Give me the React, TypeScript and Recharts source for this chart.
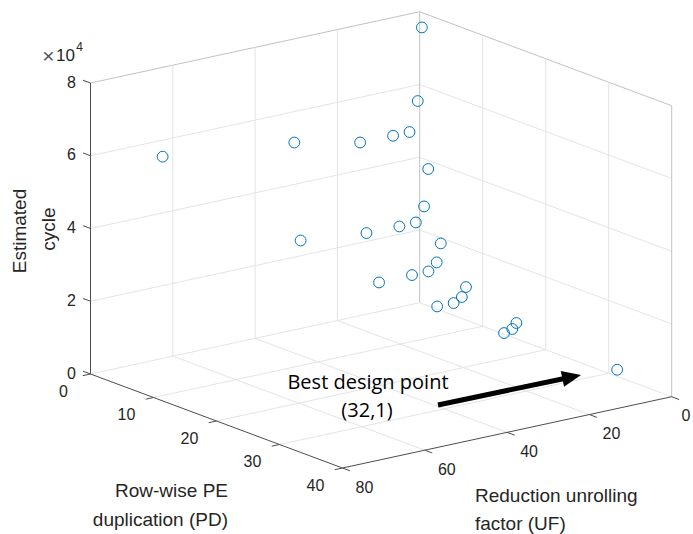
import { ScatterChart, Scatter, XAxis, YAxis, ReferenceLine, ReferenceDot } from "recharts";

// design space sweep: row-wise PE duplication (PD) x reduction unrolling factor (UF)
const pd = [1, 1, 1, 1, 1, 1, 1, 2, 2, 2, 2, 2, 2, 4, 4, 4, 4, 4, 8, 8, 8, 8, 16, 16, 16, 32];
const uf = [1, 2, 4, 8, 16, 32, 64, 1, 2, 4, 8, 16, 32, 1, 2, 4, 8, 16, 1, 2, 4, 8, 1, 2, 4, 1];
const cycles = [
  76570, 56580, 48550, 48510, 48620, 52520, 56480,
  38300, 28260, 24340, 24220, 24360, 26230,
  19130, 14160, 12170, 12150, 12070,
  9730, 7230, 6060, 6100,
  5000, 3600, 2980,
  2500,
];

const pdTicks = [0, 10, 20, 30, 40];
const ufTicks = [0, 20, 40, 60, 80];
const zTicks = [0, 20000, 40000, 60000, 80000];
const zTickLabels = ["0", "2", "4", "6", "8"];

const W = 693;
const H = 534;
const PD_MAX = 40;
const UF_MAX = 80;
const Z_MAX = 80000;

// view: screen position of (PD=0, UF=80, z=0) and per-unit screen steps (y down)
const ORIGIN = { x: 90.5, y: 374 };
const STEP_PD = { x: 6.3, y: 2.35 };
const STEP_UF = { x: -4.115, y: 0.891 }; // per +1 UF
const STEP_Z = 36.375 / 10000;

function screen(p: number, u: number, z: number) {
  return {
    x: ORIGIN.x + STEP_PD.x * p + STEP_UF.x * (u - UF_MAX),
    y: ORIGIN.y + STEP_PD.y * p + STEP_UF.y * (u - UF_MAX) - STEP_Z * z,
  };
}
// screen px -> chart data units (y axis points up)
const toData = (s: { x: number; y: number }) => ({ x: s.x, y: H - s.y });
const pt = (p: number, u: number, z: number) => toData(screen(p, u, z));

const points = pd.map((p, i) => {
  const d = pt(p, uf[i], cycles[i]);
  return { sx: d.x, sy: d.y, pd: p, uf: uf[i], cycle: cycles[i] };
});

type Seg = { a: { x: number; y: number }; b: { x: number; y: number }; color: string; w: number };
const segs: Seg[] = [];
const GRID = "#e4e4e4";
const BOX = "#c2c2c2";
const AXIS = "#4d4d4d";
const add = (a: any, b: any, color: string, w = 1) => segs.push({ a, b, color, w });

// walls + floor grid
zTicks.forEach((z) => {
  add(pt(0, UF_MAX, z), pt(0, 0, z), z === Z_MAX ? BOX : GRID);
  add(pt(0, 0, z), pt(PD_MAX, 0, z), z === Z_MAX ? BOX : GRID);
});
ufTicks.filter((u) => u > 0 && u < UF_MAX).forEach((u) => {
  add(pt(0, u, 0), pt(0, u, Z_MAX), GRID);
  add(pt(0, u, 0), pt(PD_MAX, u, 0), GRID);
});
pdTicks.filter((p) => p > 0 && p < PD_MAX).forEach((p) => {
  add(pt(p, 0, 0), pt(p, 0, Z_MAX), GRID);
  add(pt(p, UF_MAX, 0), pt(p, 0, 0), GRID);
});
add(pt(0, 0, 0), pt(0, 0, Z_MAX), BOX);
add(pt(PD_MAX, 0, 0), pt(PD_MAX, 0, Z_MAX), BOX);

// axes
add(pt(0, UF_MAX, 0), pt(0, UF_MAX, Z_MAX), AXIS);
add(pt(0, UF_MAX, 0), pt(PD_MAX, UF_MAX, 0), AXIS);
add(pt(PD_MAX, UF_MAX, 0), pt(PD_MAX, 0, 0), AXIS);

// tick marks, pointing outwards
const unit = (v: { x: number; y: number }) => {
  const n = Math.hypot(v.x, v.y);
  return { x: v.x / n, y: v.y / n };
};
const TL = 8;
const tickOut = (s: { x: number; y: number }, dir: { x: number; y: number }) =>
  add(toData(s), toData({ x: s.x + dir.x * TL, y: s.y + dir.y * TL }), AXIS);
const negPd = unit({ x: -STEP_PD.x, y: -STEP_PD.y });
const posUf = unit(STEP_UF);
const posPd = unit(STEP_PD);
zTicks.forEach((z) => tickOut(screen(0, UF_MAX, z), negPd));
pdTicks.forEach((p) => tickOut(screen(p, UF_MAX, 0), posUf));
ufTicks.forEach((u) => tickOut(screen(PD_MAX, u, 0), posPd));

type Lbl = { x: number; y: number; text: string; anchor?: string; size?: number; font?: string; rot?: number; color?: string };
const TICK_FONT = "'Liberation Sans', Arial, sans-serif";
const NOTE_FONT = "'Open Sans', sans-serif";
const labels: Lbl[] = [];
zTicks.forEach((z, i) => {
  const s = screen(0, UF_MAX, z);
  labels.push({ x: 76, y: s.y - 1, text: zTickLabels[i], anchor: "end" });
});
pdTicks.forEach((p) => {
  const s = screen(p, UF_MAX, 0);
  labels.push({ x: s.x - 27, y: s.y + 17, text: String(p) });
});
ufTicks.forEach((u) => {
  const s = screen(PD_MAX, u, 0);
  // last label sits at the window edge; nudge it in so it stays readable
  labels.push({ x: Math.min(s.x + 22, W - 7), y: s.y + 19, text: String(u) });
});
labels.push({ x: 228, y: 490, text: "Row-wise PE", anchor: "end", size: 19 });
labels.push({ x: 228, y: 519, text: "duplication (PD)", anchor: "end", size: 19 });
labels.push({ x: 475, y: 495, text: "Reduction unrolling", anchor: "start", size: 19 });
labels.push({ x: 475, y: 523, text: "factor (UF)", anchor: "start", size: 19 });
labels.push({ x: 19, y: 231, text: "Estimated", size: 19, rot: -90 });
labels.push({ x: 48, y: 229, text: "cycle", size: 19, rot: -90 });
labels.push({ x: 368, y: 381, text: "Best design point", size: 20, font: NOTE_FONT, color: "#000" });
labels.push({ x: 367, y: 409, text: "(32,1)", size: 20, font: NOTE_FONT, color: "#000" });
// exponent of the z axis
labels.push({ x: 48.5, y: 55, text: "×", size: 21, color: "#555" });
labels.push({ x: 65.5, y: 55, text: "10", size: 17 });
labels.push({ x: 79.5, y: 47, text: "4", size: 12 });

// annotation arrow (screen px)
const ARROW_TAIL = { x: 438, y: 405 };
const ARROW_TIP = { x: 581, y: 375 };
const HEAD_LEN = 18;
const HEAD_HALF = 8;
const arrowDir = unit({ x: ARROW_TIP.x - ARROW_TAIL.x, y: ARROW_TIP.y - ARROW_TAIL.y });
const arrowAngle = (Math.atan2(arrowDir.y, arrowDir.x) * 180) / Math.PI;
const headBase = { x: ARROW_TIP.x - arrowDir.x * HEAD_LEN, y: ARROW_TIP.y - arrowDir.y * HEAD_LEN };

const Circle = (props: any) => (
  <circle cx={props.cx} cy={props.cy} r={5.4} fill="none" stroke="#0072BD" strokeWidth={1} />
);

export default function App() {
  return (
    <div style={{ position: "absolute", left: 0, top: 0, width: W, height: H, background: "#fff" }}>
      <ScatterChart width={W} height={H} margin={{ top: 0, right: 0, bottom: 0, left: 0 }}>
        <XAxis type="number" dataKey="sx" domain={[0, W]} hide allowDataOverflow />
        <YAxis type="number" dataKey="sy" domain={[0, H]} hide allowDataOverflow />
        {segs.map((s, i) => (
          <ReferenceLine
            key={"s" + i}
            segment={[s.a, s.b]}
            stroke={s.color}
            strokeWidth={s.w}
            ifOverflow="visible"
          />
        ))}
        <Scatter data={points} shape={Circle} isAnimationActive={false} />
        <ReferenceLine
          segment={[toData(ARROW_TAIL), toData(headBase)]}
          stroke="#000"
          strokeWidth={5}
          ifOverflow="visible"
        />
        <ReferenceDot
          x={toData(ARROW_TIP).x}
          y={toData(ARROW_TIP).y}
          r={0}
          ifOverflow="visible"
          shape={(p: any) => (
            <polygon
              points={`0,0 ${-HEAD_LEN - 1},${-HEAD_HALF} ${-HEAD_LEN - 1},${HEAD_HALF}`}
              transform={`translate(${p.cx},${p.cy}) rotate(${arrowAngle})`}
              fill="#000"
            />
          )}
        />
        {labels.map((l, i) => {
          const d = toData(l);
          return (
            <ReferenceDot
              key={"l" + i}
              x={d.x}
              y={d.y}
              r={0}
              ifOverflow="visible"
              shape={(p: any) => (
                <text
                  x={p.cx}
                  y={p.cy}
                  textAnchor={(l.anchor as any) || "middle"}
                  dominantBaseline="central"
                  fontFamily={l.font || TICK_FONT}
                  fontSize={l.size || 16}
                  fill={l.color || "#262626"}
                  transform={l.rot ? `rotate(${l.rot},${p.cx},${p.cy})` : undefined}
                >
                  {l.text}
                </text>
              )}
            />
          );
        })}
      </ScatterChart>
    </div>
  );
}
